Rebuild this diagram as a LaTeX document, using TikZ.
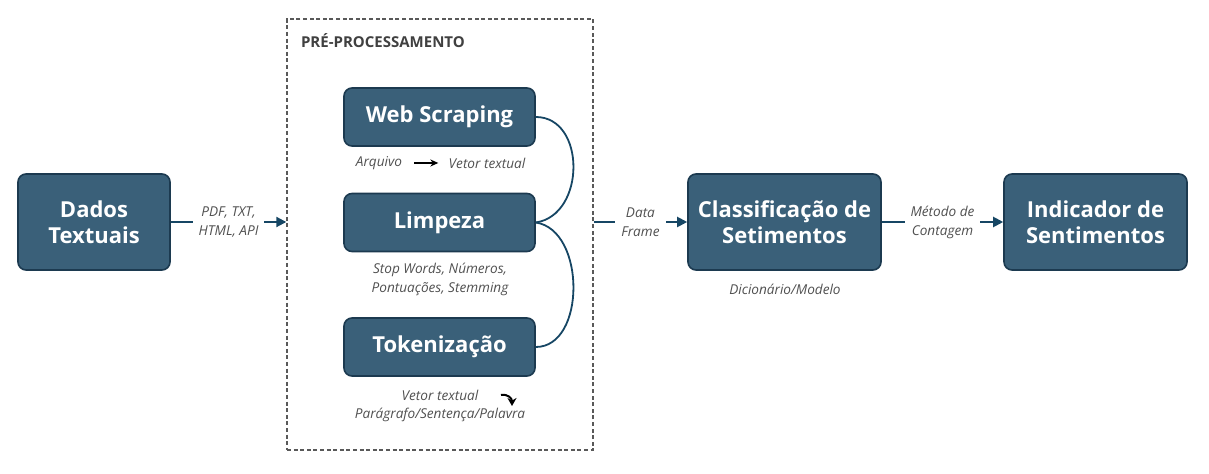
\documentclass[tikz,border=0pt]{standalone}
\usepackage{fontspec}
\setmainfont{Open Sans}
\usetikzlibrary{arrows.meta}
\definecolor{boxfill}{RGB}{58,96,121}
\definecolor{boxline}{RGB}{28,58,80}
\definecolor{linkcol}{RGB}{22,70,100}
\definecolor{notecol}{RGB}{80,80,80}
\begin{document}
\begin{tikzpicture}[x=0.5pt,y=-0.5pt,>={Triangle[length=5pt,width=5pt]}]
\tikzstyle{stage}=[draw=boxline,line width=0.8pt,fill=boxfill,rounded corners=4pt,text=white,font=\fontsize{11}{13}\selectfont\bfseries,align=center,minimum width=95.5pt,minimum height=29pt,inner sep=0pt]
\tikzstyle{bigstage}=[stage,minimum height=48pt]
\tikzstyle{note}=[text=notecol,font=\fontsize{6.8}{9.5}\selectfont\itshape,align=center,inner sep=1pt]
\tikzstyle{flow}=[draw=linkcol,line width=1pt,->]
\tikzstyle{brace}=[draw=linkcol,line width=0.9pt]
\useasboundingbox (0,0) rectangle (1209,474);
    % dashed block
    \node[draw=black!65,dash pattern=on 2pt off 1.3pt,line width=0.7pt,minimum width=153pt,minimum height=215.5pt,inner sep=0pt] (pre) at (440,234.5) {};
    \node[anchor=west,text=black!75,font=\fontsize{7.5}{9}\selectfont\bfseries] (pretitle) at (294,41) {PRÉ-PROCESSAMENTO};
    % stages
    \node[bigstage,minimum width=76pt] (dados) at (94,222) {Dados\\Textuais};
    \node[stage] (web) at (439.5,117) {Web Scraping};
    \node[stage] (limpeza) at (439.5,222.5) {Limpeza};
    \node[stage] (token) at (439.5,347) {Tokenização};
    \node[bigstage,minimum width=96.5pt] (classif) at (784.5,222) {Classificação de\\Setimentos};
    \node[bigstage,minimum width=91.5pt] (indic) at (1095.5,222) {Indicador de\\Sentimentos};
    % notes
    \node[note] (arq) at (379,163) {Arquivo};
    \node[note] (vet) at (487,163) {Vetor textual};
    \node[note] (stop) at (440,279) {Stop Words, Números,\\Pontuações, Stemming};
    \node[note] (vet2) at (440,395) {Vetor textual};
    \node[note] (parag) at (440,415) {Parágrafo/Sentença/Palavra};
    \node[note] (dicio) at (785,289) {Dicionário/Modelo};
    \coordinate (tw) at (501,395);
    \coordinate (ts) at (512,406);
    \coordinate (prein) at (dados.east -| pre.west);
    \coordinate (preout) at (classif.west -| pre.east);
    % links
    \path (arq) edge [draw,->,>={Stealth[length=4pt,width=3.5pt]},line width=0.9pt,shorten <=5pt,shorten >=4pt] (vet);
    \path (tw) edge [draw,->,>={Stealth[length=4pt,width=4.5pt]},line width=1pt,out=10,in=90,looseness=1.2] (ts);
    \path (dados) edge [flow] node[note,fill=white,inner sep=3pt] {PDF, TXT,\\HTML, API} (prein);
    \path (preout) edge [flow] node[note,fill=white,inner sep=3pt] {Data\\Frame} (classif);
    \path (classif) edge [flow] node[note,fill=white,inner sep=3pt] {Método de\\Contagem} (indic);
    \draw[brace] (web.east) .. controls (586,117) and (586,215) .. (limpeza.east);
    \draw[brace] (token.east) .. controls (586,347) and (586,230) .. (limpeza.east);
\end{tikzpicture}
\end{document}
